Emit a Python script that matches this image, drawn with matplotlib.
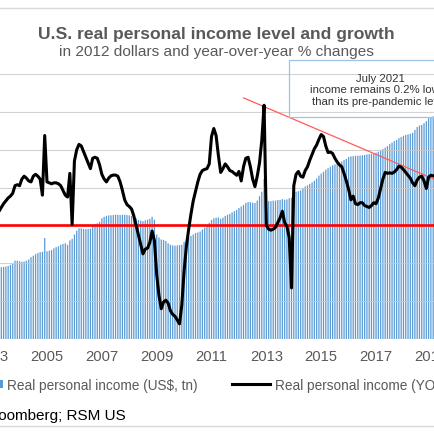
import numpy as np
import pandas as pd
import matplotlib
matplotlib.use("Agg")
import matplotlib.pyplot as plt
from matplotlib.lines import Line2D
from matplotlib.patches import Patch, Rectangle

plt.rcParams['font.family'] = ['Liberation Sans', 'DejaVu Sans']

# ---------------- data (monthly, starting March 2003) ----------------
start_month = "2003-03"

income_level_tn = [
    # 2003 Mar-Dec
    11.42, 11.43, 11.44, 11.45, 11.46, 11.48, 11.52, 11.55, 11.66, 11.66,
    # 2004
    11.64, 11.62, 11.63, 11.66, 11.70, 11.78, 11.83, 11.88, 11.92, 11.95, 11.96, 12.43,
    # 2005
    11.98, 12.00, 12.02, 12.08, 12.12, 12.15, 12.20, 12.23, 12.25, 12.20, 12.35, 12.40,
    # 2006
    12.55, 12.68, 12.76, 12.76, 12.74, 12.73, 12.74, 12.75, 12.85, 12.90, 12.93, 12.98,
    # 2007
    13.10, 13.15, 13.18, 13.20, 13.20, 13.21, 13.22, 13.22, 13.21, 13.22, 13.22, 13.21,
    # 2008
    13.20, 13.18, 13.14, 13.10, 13.04, 13.02, 13.00, 13.03, 13.05, 13.08, 13.15, 13.05,
    # 2009
    12.55, 12.45, 12.38, 12.36, 12.33, 12.25, 12.20, 12.18, 12.17, 12.18, 12.19, 12.20,
    # 2010
    12.30, 12.40, 12.45, 12.50, 12.55, 12.60, 12.62, 12.65, 12.72, 12.78, 12.85, 12.95,
    # 2011
    13.04, 13.10, 13.12, 13.13, 13.08, 13.12, 13.18, 13.22, 13.25, 13.30, 13.34, 13.38,
    # 2012
    13.45, 13.50, 13.55, 13.62, 13.65, 13.65, 13.63, 13.62, 13.70, 13.85, 14.00, 14.43,
    # 2013
    13.70, 13.68, 13.68, 13.70, 13.70, 13.72, 13.72, 13.75, 13.73, 13.74, 13.78, 13.80,
    # 2014
    13.95, 14.00, 14.02, 14.05, 14.12, 14.18, 14.22, 14.27, 14.32, 14.38, 14.45, 14.55,
    # 2015
    14.62, 14.68, 14.75, 14.80, 14.85, 14.90, 14.93, 14.97, 15.00, 15.03, 15.08, 15.12,
    # 2016
    15.18, 15.20, 15.21, 15.22, 15.22, 15.23, 15.24, 15.25, 15.27, 15.28, 15.29, 15.30,
    # 2017
    15.33, 15.36, 15.40, 15.45, 15.50, 15.55, 15.62, 15.67, 15.72, 15.76, 15.82, 15.86,
    # 2018
    15.90, 15.93, 15.95, 15.97, 16.00, 16.10, 16.20, 16.25, 16.27, 16.33, 16.40, 16.50,
    # 2019 Jan-Mar
    16.54, 16.56, 16.58,
]

income_yoy_pct = [
    # 2003 Mar-Dec
    0.60, 0.75, 0.95, 1.15, 1.30, 1.45, 1.55, 1.70, 2.10, 2.15,
    # 2004
    2.10, 2.45, 2.60, 2.50, 2.35, 2.30, 2.60, 2.70, 2.60, 2.45, 1.60, 4.75,
    # 2005
    2.30, 2.25, 2.20, 2.25, 2.25, 2.20, 2.10, 1.85, 1.60, 1.50, 2.75, 0.05,
    # 2006
    3.40, 4.00, 4.28, 4.20, 3.90, 3.60, 3.30, 3.00, 3.55, 3.60, 3.55, 3.20,
    # 2007
    2.70, 2.45, 2.30, 2.50, 2.62, 2.66, 2.66, 2.60, 2.30, 1.85, 1.35, 1.10,
    # 2008
    1.00, 0.87, 0.50, 0.00, -0.48, -1.00, -1.50, -1.25, -1.20, -0.90, -0.30, -0.80,
    # 2009
    -2.60, -3.70, -4.40, -4.05, -3.95, -4.10, -4.50, -4.70, -4.80, -5.00, -5.20, -4.20,
    # 2010
    -2.40, -1.10, -0.20, 0.60, 1.30, 1.80, 2.30, 2.70, 2.90, 2.96, 3.00, 3.25,
    # 2011
    4.70, 5.12, 4.75, 3.70, 2.80, 3.00, 3.25, 3.10, 2.90, 2.85, 2.75, 2.65,
    # 2012
    2.85, 2.35, 3.10, 3.55, 3.60, 3.10, 2.45, 2.05, 2.60, 3.30, 4.50, 6.35,
    # 2013
    0.00, -0.20, -0.25, -0.20, -0.10, 0.15, 0.40, 0.75, 0.15, -0.05, -0.65, -3.30,
    # 2014
    2.10, 2.70, 2.85, 2.60, 2.55, 2.90, 3.10, 3.45, 3.75, 4.05, 4.25, 4.55,
    # 2015
    4.80, 4.70, 4.20, 3.85, 3.88, 3.80, 3.55, 3.35, 3.20, 3.10, 2.75, 2.35,
    # 2016
    1.90, 1.35, 1.55, 1.15, 1.10, 1.20, 1.20, 1.05, 1.00, 0.95, 1.05, 1.20,
    # 2017
    1.15, 1.45, 1.95, 2.45, 2.80, 2.75, 2.78, 2.75, 2.82, 2.95, 3.13, 3.08,
    # 2018
    2.95, 2.80, 2.65, 2.50, 2.25, 2.10, 2.40, 2.55, 2.60, 2.35, 1.95, 2.55,
    # 2019 Jan-Mar
    2.65, 2.62, 2.60,
]

tick_years = [2003, 2005, 2007, 2009, 2011, 2013, 2015, 2017, 2019]
trend_months = ["2012-03", "2021-07"]
trend_pct = [6.74, 0.97]

title = "U.S. real personal income level and growth"
subtitle = "in 2012 dollars and year-over-year % changes"
note = "July 2021\nincome remains 0.2% lower\nthan its pre-pandemic level"
bar_label = "Real personal income (US$, tn)"
line_label = "Real personal income (YOY, %)"
source = "Source: Bloomberg; RSM US"

# ---------------- figure ----------------
months = pd.period_range(start_month, periods=len(income_level_tn), freq="M")
idx = np.arange(len(months))


def month_pos(s):
    return (pd.Period(s, "M") - months[0]).n


W = H = 435.0
PX_PER_MONTH = 2.285
EXT = 24.0                      # axes run a little past both canvas edges (cropped view)
x_first = 1.43 - EXT / PX_PER_MONTH
x_last = 191.8 + EXT / PX_PER_MONTH

fig = plt.figure(figsize=(4.35, 4.35), dpi=100)
fig.patch.set_facecolor("white")

ax = fig.add_axes([-EXT / W, 1 - 340 / H, (W + 2 * EXT) / W, 265 / H])
bars = ax.bar(idx, income_level_tn, width=0.55, color="#5b9bd5", linewidth=0, zorder=2)
for b in bars:
    b.set_snap(False)
ax.set_ylim(9, 18)
ax.set_yticks([])
for s in ax.spines.values():
    s.set_visible(False)
ax.set_xticks([month_pos(f"{y}-01") for y in tick_years])
ax.set_xticklabels([str(y) for y in tick_years], fontsize=10.6, color="#595959")
ax.tick_params(axis="x", length=0, pad=7)
ax.set_xlim(x_first, x_last)

ax2 = ax.twinx()
ax2.set_ylim(-6, 8)
ax2.set_yticks(np.arange(-6, 9, 2))
ax2.tick_params(axis="y", length=0, labelright=False)
ax2.grid(axis="y", color="#c8c8c8", linewidth=0.8, alpha=0.8, zorder=0)
for s in ax2.spines.values():
    s.set_visible(False)
ax2.axhline(0, color="#ff0000", linewidth=1.9, zorder=3)
ax2.plot([month_pos(m) for m in trend_months], trend_pct, color="#ff5b5b",
         linewidth=0.9, zorder=3)
ax2.plot(idx, income_yoy_pct, color="black", linewidth=2.2, zorder=4,
         solid_joinstyle="round")
ax2.set_xlim(x_first, x_last)

# titles
fig.text(216 / W, 1 - 34 / H, title, ha="center", va="center", fontsize=12.6,
         fontweight="bold", color="#595959")
fig.text(216 / W, 1 - 52 / H, subtitle, ha="center", va="center", fontsize=11.1,
         color="#595959")

# annotation box
fig.add_artist(Rectangle((289 / W, 1 - 118 / H), 182 / W, 57 / H,
                         transform=fig.transFigure, facecolor="none",
                         edgecolor="#9dc3e6", linewidth=0.9))
fig.text(380 / W, 1 - 90.5 / H, note, ha="center", va="center", fontsize=8.2,
         color="#333333", linespacing=1.2)

# legends
fig.legend(handles=[Patch(facecolor="#5b9bd5", edgecolor="none", label=bar_label)],
           loc="center left", bbox_to_anchor=(-4 / W, 1 - 386 / H), frameon=False,
           fontsize=9.8, handlelength=0.5, handleheight=0.5, handletextpad=0.32,
           borderpad=0, borderaxespad=0, labelcolor="#595959")
fig.legend(handles=[Line2D([], [], color="black", linewidth=2.2, label=line_label)],
           loc="center left", bbox_to_anchor=(232 / W, 1 - 386 / H), frameon=False,
           fontsize=9.8, handlelength=2.8, handletextpad=0.37,
           borderpad=0, borderaxespad=0, labelcolor="#595959")

fig.text(126 / W, 1 - 416.5 / H, source, ha="right", va="center", fontsize=11,
         color="black")

# chart frame lines
for yy in (9, 427):
    fig.add_artist(Line2D([0, 1], [1 - yy / H, 1 - yy / H], transform=fig.transFigure,
                          color="#d9d9d9", linewidth=1))

fig.savefig("out.png", dpi=100, facecolor="white")
